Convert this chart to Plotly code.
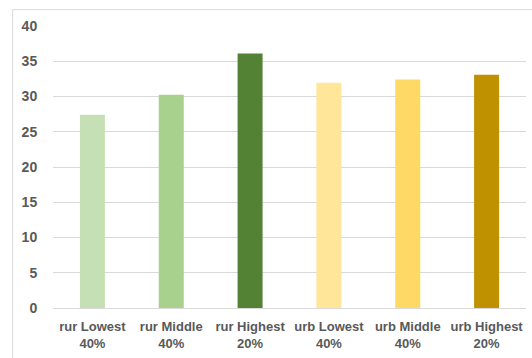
import plotly.graph_objects as go

categories = ["rur Lowest<br>40%", "rur Middle<br>40%", "rur Highest<br>20%",
              "urb Lowest<br>40%", "urb Middle<br>40%", "urb Highest<br>20%"]
values = [27.4, 30.25, 36.1, 31.95, 32.4, 33.1]
colors = ["#c5e0b4", "#a9d18e", "#548235", "#ffe699", "#ffd966", "#bf9000"]
y_ticks = [0, 5, 10, 15, 20, 25, 30, 35, 40]

fig = go.Figure(go.Bar(x=categories, y=values, marker=dict(color=colors, line=dict(width=0)),
                       hoverinfo="skip"))

font_family = "Liberation Sans, Arial, sans-serif"
fig.update_layout(
    width=532, height=358,
    margin=dict(l=53, r=6, t=26, b=50),
    paper_bgcolor="white", plot_bgcolor="white",
    bargap=0.683,
    showlegend=False,
    font=dict(family=font_family, size=13, color="#595959"),
    xaxis=dict(
        type="category",
        showgrid=False, showline=True, linecolor="#d9d9d9", linewidth=1,
        ticks="outside", ticklen=6, tickcolor="rgba(0,0,0,0)",
        tickfont=dict(family=font_family, size=13, color="#595959", weight="bold"),
    ),
    yaxis=dict(
        range=[0, 40], tickvals=y_ticks,
        showgrid=True, gridcolor="#d9d9d9", gridwidth=1,
        zeroline=False, showline=False,
        ticks="outside", ticklen=12, tickcolor="rgba(0,0,0,0)",
        tickfont=dict(family=font_family, size=14, color="#595959", weight="bold"),
    ),
    shapes=[dict(type="rect", xref="paper", yref="paper",
                 x0=-0.0853, x1=1.2, y0=-0.4, y1=1.058,
                 line=dict(color="#d9d9d9", width=1), fillcolor="rgba(0,0,0,0)",
                 layer="below")],
)

fig.write_html("out.html")
